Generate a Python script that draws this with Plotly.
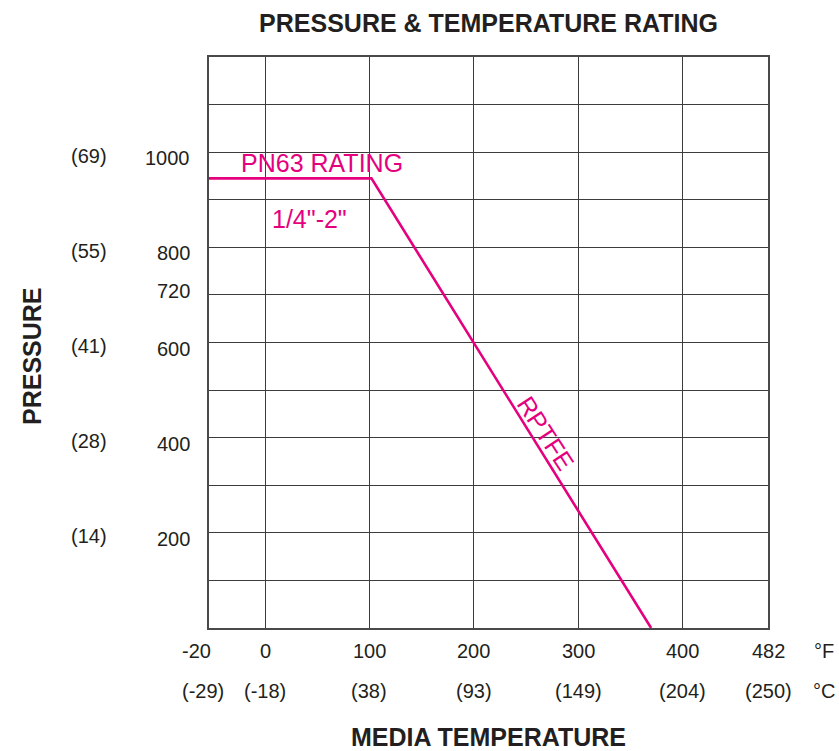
import plotly.graph_objects as go

# ---------------- data ----------------
temp_f_ticks = [-20, 0, 100, 200, 300, 400, 482]
temp_f_labels = ["-20", "0", "100", "200", "300", "400", "482"]
temp_c_labels = ["(-29)", "(-18)", "(38)", "(93)", "(149)", "(204)", "(250)"]
psi_ticks = [1000, 800, 720, 600, 400, 200]
bar_labels = ["(69)", "(55)", "(41)", "(28)", "(14)"]
bar_at_psi = [1000, 800, 600, 400, 200]
rating_temp_f = [-20, 102, 370]      # RPTFE PN63 rating curve, deg F
rating_psi = [945, 945, 0]           # psi

# ---------------- scale helper ----------------
# The reference draws the -20..0 F span wider than the rest of the axis.
NEG_STRETCH = 53.66 / 20.0


def xpos(f):
    return f if f >= 0 else f * NEG_STRETCH


FONT = "Liberation Sans, Arial, sans-serif"
TXT = "#231f20"
MAG = "#e5007e"
GRID = "#3c3c3c"

fig = go.Figure()
fig.add_trace(go.Scatter(
    x=[xpos(t) for t in rating_temp_f], y=rating_psi,
    mode="lines", line=dict(color=MAG, width=2.6),
    hoverinfo="skip", showlegend=False))

ann = []
# x tick labels, two rows (F and C)
for i, (t, fl, cl) in enumerate(zip(temp_f_ticks, temp_f_labels, temp_c_labels)):
    kw = dict(xanchor="center", xshift=0)
    if i == 0:
        kw = dict(xanchor="left", xshift=-29)
    ann.append(dict(x=xpos(t), y=0, xref="x", yref="paper", text=fl,
                    showarrow=False, yanchor="middle", yshift=-22.5,
                    font=dict(size=20, color=TXT, family=FONT), **kw))
    ann.append(dict(x=xpos(t), y=0, xref="x", yref="paper", text=cl,
                    showarrow=False, yanchor="middle", yshift=-62.5,
                    font=dict(size=20, color=TXT, family=FONT), **kw))
for unit, ys in (("°F", -22.5), ("°C", -62.5)):
    ann.append(dict(x=1, y=0, xref="paper", yref="paper", text=unit,
                    showarrow=False, xanchor="center", yanchor="middle",
                    xshift=56, yshift=ys,
                    font=dict(size=20, color=TXT, family=FONT)))
# y tick labels (psi) and bar equivalents
for p in psi_ticks:
    ann.append(dict(x=0, y=p, xref="paper", yref="y", text=str(p),
                    showarrow=False, xanchor="right", yanchor="middle",
                    xshift=-17, yshift=-6,
                    font=dict(size=20, color=TXT, family=FONT)))
for b, p in zip(bar_labels, bar_at_psi):
    ann.append(dict(x=0, y=p, xref="paper", yref="y", text=b,
                    showarrow=False, xanchor="center", yanchor="middle",
                    xshift=-120, yshift=-3.5,
                    font=dict(size=20, color=TXT, family=FONT)))
# axis titles
ann.append(dict(x=0.5, y=0, xref="paper", yref="paper", text="<b>MEDIA TEMPERATURE</b>",
                showarrow=False, xanchor="center", yanchor="middle", yshift=-109,
                font=dict(size=25, color=TXT, family=FONT)))
ann.append(dict(x=0, y=0.4755, xref="paper", yref="paper", text="<b>PRESSURE</b>",
                showarrow=False, xanchor="center", yanchor="middle", xshift=-176.5,
                textangle=-90, font=dict(size=25, color=TXT, family=FONT)))
# in-plot labels
ann.append(dict(x=55, y=977, xref="x", yref="y", text="PN63 RATING",
                showarrow=False, xanchor="center", yanchor="middle",
                font=dict(size=25, color=MAG, family=FONT)))
ann.append(dict(x=43, y=860, xref="x", yref="y", text="1/4\"-2\"",
                showarrow=False, xanchor="center", yanchor="middle",
                font=dict(size=25, color=MAG, family=FONT)))
ann.append(dict(x=269, y=410, xref="x", yref="y", text="RPTFE",
                showarrow=False, xanchor="center", yanchor="middle", textangle=57,
                font=dict(size=25, color=MAG, family=FONT)))

fig.update_layout(
    width=839, height=751,
    margin=dict(l=209, r=71, t=57, b=123),
    paper_bgcolor="white", plot_bgcolor="white",
    title=dict(text="<b>PRESSURE & TEMPERATURE RATING</b>",
               x=0.5, xref="paper", xanchor="center",
               y=1 - 23.5 / 751, yref="container", yanchor="middle",
               font=dict(size=25, color=TXT, family=FONT)),
    xaxis=dict(range=[xpos(temp_f_ticks[0]), temp_f_ticks[-1]],
               tickvals=temp_f_ticks[1:-1], showticklabels=False, ticks="",
               showgrid=True, gridcolor=GRID, gridwidth=1.3, zeroline=False,
               showline=True, mirror=True, linecolor="#4a4a4a", linewidth=2),
    yaxis=dict(range=[0, 1200], tick0=0, dtick=100, showticklabels=False, ticks="",
               showgrid=True, gridcolor=GRID, gridwidth=1.3, zeroline=False,
               showline=True, mirror=True, linecolor="#4a4a4a", linewidth=2),
    annotations=ann,
    showlegend=False,
)

fig.write_html(
    "out.html",
    config={"displayModeBar": False},
    post_script="document.body.style.margin='0';document.body.style.overflow='hidden';",
)
